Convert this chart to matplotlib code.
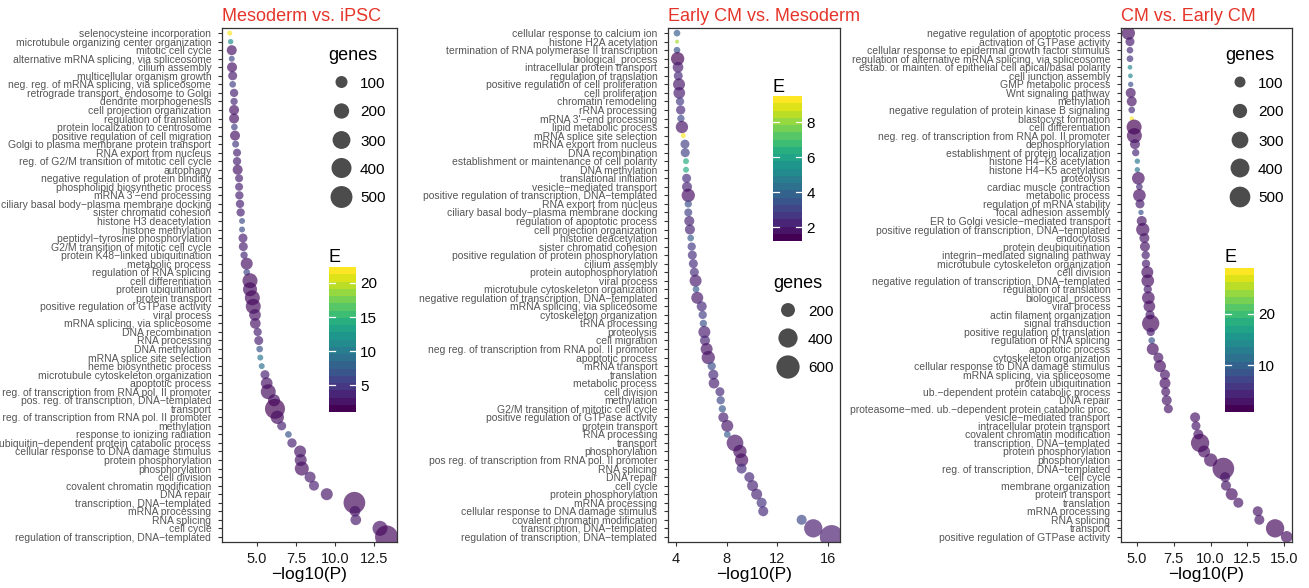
import numpy as np
import matplotlib
matplotlib.use("Agg")
import matplotlib.pyplot as plt
import matplotlib.colors as mcolors
from matplotlib.cm import ScalarMappable

plt.rcParams['font.family'] = ['Liberation Sans', 'DejaVu Sans']

W, H, DPI = 1309, 588, 100
TITLE_RED = '#e5352a'
TICK_GREY = '#555555'
FRAME = '#333333'

# ---- Mesoderm vs. iPSC ----
terms_meso = [
    "selenocysteine incorporation", "microtubule organizing center organization",
    "mitotic cell cycle", "alternative mRNA splicing, via spliceosome", "cilium assembly",
    "multicellular organism growth", "neg. reg. of mRNA splicing, via spliceosome",
    "retrograde transport, endosome to Golgi", "dendrite morphogenesis",
    "cell projection organization", "regulation of translation",
    "protein localization to centrosome", "positive regulation of cell migration",
    "Golgi to plasma membrane protein transport", "RNA export from nucleus",
    "reg. of G2/M transition of mitotic cell cycle", "autophagy",
    "negative regulation of protein binding", "phospholipid biosynthetic process",
    "mRNA 3'-end processing", "ciliary basal body-plasma membrane docking",
    "sister chromatid cohesion", "histone H3 deacetylation", "histone methylation",
    "peptidyl-tyrosine phosphorylation", "G2/M transition of mitotic cell cycle",
    "protein K48-linked ubiquitination", "metabolic process", "regulation of RNA splicing",
    "cell differentiation", "protein ubiquitination", "protein transport",
    "positive regulation of GTPase activity", "viral process", "mRNA splicing, via spliceosome",
    "DNA recombination", "RNA processing", "DNA methylation", "mRNA splice site selection",
    "heme biosynthetic process", "microtubule cytoskeleton organization", "apoptotic process",
    "neg. reg. of transcription from RNA pol. II promoter",
    "pos. reg. of transcription, DNA-templated", "transport",
    "pos. reg. of transcription from RNA pol. II promoter", "methylation",
    "response to ionizing radiation", "ubiquitin-dependent protein catabolic process",
    "cellular response to DNA damage stimulus", "protein phosphorylation", "phosphorylation",
    "cell division", "covalent chromatin modification", "DNA repair",
    "transcription, DNA-templated", "mRNA processing", "RNA splicing", "cell cycle",
    "regulation of transcription, DNA-templated",
]
logp_meso = [3.25, 3.31, 3.38, 3.38, 3.40, 3.44, 3.44, 3.53, 3.53, 3.53,
             3.53, 3.55, 3.59, 3.63, 3.72, 3.72, 3.76, 3.85, 3.85, 3.87,
             3.91, 3.95, 4.04, 4.04, 4.10, 4.12, 4.17, 4.34, 4.34, 4.55,
             4.55, 4.70, 4.76, 4.87, 4.89, 5.04, 5.11, 5.17, 5.21, 5.30,
             5.51, 5.62, 5.72, 6.09, 6.15, 6.30, 6.58, 7.01, 7.24, 7.76,
             7.80, 7.87, 8.40, 8.65, 9.47, 11.24, 11.28, 11.33, 12.88, 13.30]
genes_meso = [2, 3, 56, 6, 56, 39, 11, 29, 17, 56,
              56, 11, 56, 14, 25, 29, 56, 25, 25, 29,
              29, 29, 6, 6, 39, 39, 17, 100, 11, 189,
              156, 189, 189, 93, 70, 29, 39, 11, 6, 6,
              39, 93, 189, 100, 400, 135, 39, 11, 44, 100,
              100, 156, 77, 56, 100, 490, 70, 70, 189, 560]
enrich_meso = [22.35, 11.5, 2.0, 5.5, 2.0, 2.5, 5.0, 3.0, 3.5, 2.0,
               2.0, 5.0, 2.0, 4.5, 3.0, 2.8, 2.2, 3.0, 3.0, 3.0,
               3.0, 3.0, 6.0, 6.0, 2.8, 2.8, 3.5, 2.0, 5.5, 1.6,
               1.7, 1.6, 1.6, 2.0, 2.2, 3.0, 2.8, 6.5, 9.5, 9.0,
               3.0, 2.0, 1.6, 1.9, 1.05, 1.7, 3.0, 6.5, 3.0, 2.2,
               2.2, 1.8, 2.5, 2.8, 2.3, 1.4, 2.2, 2.5, 2.0, 1.5]

# ---- Early CM vs. Mesoderm ----
terms_early = [
    "cellular response to calcium ion", "histone H2A acetylation",
    "termination of RNA polymerase II transcription", "biological_process",
    "intracellular protein transport", "regulation of translation",
    "positive regulation of cell proliferation", "cell proliferation", "chromatin remodeling",
    "rRNA processing", "mRNA 3'-end processing", "lipid metabolic process",
    "mRNA splice site selection", "mRNA export from nucleus", "DNA recombination",
    "establishment or maintenance of cell polarity", "DNA methylation",
    "translational initiation", "vesicle-mediated transport",
    "positive regulation of transcription, DNA-templated", "RNA export from nucleus",
    "ciliary basal body-plasma membrane docking", "regulation of apoptotic process",
    "cell projection organization", "histone deacetylation", "sister chromatid cohesion",
    "positive regulation of protein phosphorylation", "cilium assembly",
    "protein autophosphorylation", "viral process", "microtubule cytoskeleton organization",
    "negative regulation of transcription, DNA-templated", "mRNA splicing, via spliceosome",
    "cytoskeleton organization", "tRNA processing", "proteolysis", "cell migration",
    "neg reg. of transcription from RNA pol. II promoter", "apoptotic process",
    "mRNA transport", "translation", "metabolic process", "cell division", "methylation",
    "G2/M transition of mitotic cell cycle", "positive regulation of GTPase activity",
    "protein transport", "RNA processing", "transport", "phosphorylation",
    "pos reg. of transcription from RNA pol. II promoter", "RNA splicing", "DNA repair",
    "cell cycle", "protein phosphorylation", "mRNA processing",
    "cellular response to DNA damage stimulus", "covalent chromatin modification",
    "transcription, DNA-templated", "regulation of transcription, DNA-templated",
]
logp_early = [4.08, 4.08, 4.08, 4.13, 4.16, 4.18, 4.24, 4.26, 4.32, 4.37,
              4.39, 4.47, 4.58, 4.71, 4.73, 4.79, 4.79, 4.84, 4.87, 4.97,
              4.97, 4.97, 5.05, 5.10, 5.16, 5.24, 5.29, 5.37, 5.45, 5.55,
              5.58, 5.68, 6.03, 6.11, 6.16, 6.24, 6.29, 6.42, 6.55, 6.82,
              6.95, 7.00, 7.47, 7.53, 7.66, 7.74, 8.05, 8.05, 8.66, 9.05,
              9.18, 9.18, 9.79, 10.05, 10.37, 10.76, 10.89, 13.92, 14.84, 16.29]
genes_early = [37, 10, 37, 181, 111, 75, 144, 136, 62, 80,
               46, 152, 18, 75, 75, 28, 28, 75, 96, 181,
               46, 57, 96, 96, 37, 62, 75, 75, 75, 144,
               37, 144, 96, 62, 46, 144, 96, 144, 181, 62,
               96, 110, 75, 62, 46, 96, 144, 37, 297, 181,
               181, 96, 96, 119, 119, 96, 96, 96, 361, 620]
enrich_early = [3.6, 8.4, 3.4, 1.2, 1.8, 2.2, 1.7, 1.8, 2.6, 2.2,
                3.0, 1.6, 9.5, 2.8, 2.8, 6.3, 6.3, 2.3, 2.0, 1.5,
                3.2, 2.8, 2.0, 2.0, 3.6, 2.6, 2.3, 2.3, 2.3, 1.8,
                3.6, 1.7, 2.2, 2.8, 3.3, 1.8, 2.0, 1.6, 1.6, 3.2,
                2.2, 1.9, 2.2, 3.0, 3.5, 1.9, 1.7, 3.6, 1.6, 1.5,
                1.5, 2.3, 2.2, 2.0, 2.0, 2.4, 2.2, 3.0, 1.8, 1.8]

# ---- CM vs. Early CM ----
terms_cm = [
    "negative regulation of apoptotic process", "activation of GTPase activity",
    "cellular response to epidermal growth factor stimulus",
    "regulation of alternative mRNA splicing, via spliceosome",
    "estab. or mainten. of epithelial cell apical/basal polarity", "cell junction assembly",
    "GMP metabolic process", "Wnt signaling pathway", "methylation",
    "negative regulation of protein kinase B signaling", "blastocyst formation",
    "cell differentiation", "neg. reg. of transcription from RNA pol. II promoter",
    "dephosphorylation", "establishment of protein localization", "histone H4-K8 acetylation",
    "histone H4-K5 acetylation", "proteolysis", "cardiac muscle contraction",
    "metabolic process", "regulation of mRNA stability", "focal adhesion assembly",
    "ER to Golgi vesicle-mediated transport",
    "positive regulation of transcription, DNA-templated", "endocytosis",
    "protein deubiquitination", "integrin-mediated signaling pathway",
    "microtubule cytoskeleton organization", "cell division",
    "negative regulation of transcription, DNA-templated", "regulation of translation",
    "biological_process", "viral process", "actin filament organization",
    "signal transduction", "positive regulation of translation", "regulation of RNA splicing",
    "apoptotic process", "cytoskeleton organization",
    "cellular response to DNA damage stimulus", "mRNA splicing, via spliceosome",
    "protein ubiquitination", "ub.-dependent protein catabolic process", "DNA repair",
    "proteasome-med. ub.-dependent protein catabolic proc.", "vesicle-mediated transport",
    "intracellular protein transport", "covalent chromatin modification",
    "transcription, DNA-templated", "protein phosphorylation", "phosphorylation",
    "reg. of transcription, DNA-templated", "cell cycle", "membrane organization",
    "protein transport", "translation", "mRNA processing", "RNA splicing", "transport",
    "positive regulation of GTPase activity",
]
logp_cm = [4.41, 4.52, 4.52, 4.52, 4.52, 4.55, 4.57, 4.57, 4.64, 4.64,
           4.64, 4.80, 4.82, 4.86, 4.91, 5.02, 5.02, 5.09, 5.16, 5.16,
           5.20, 5.27, 5.32, 5.39, 5.50, 5.54, 5.59, 5.61, 5.70, 5.73,
           5.73, 5.77, 5.84, 5.88, 5.93, 5.93, 6.00, 6.07, 6.45, 6.56,
           6.90, 6.90, 6.95, 7.02, 7.13, 8.95, 9.01, 9.17, 9.29, 9.56,
           10.01, 10.87, 10.99, 11.05, 11.44, 11.89, 13.21, 13.32, 14.39, 15.18]
genes_cm = [167, 56, 20, 20, 4, 4, 8, 76, 76, 20,
            2, 228, 228, 76, 28, 8, 8, 148, 20, 148,
            56, 8, 76, 167, 76, 76, 43, 43, 127, 148,
            43, 148, 118, 56, 325, 43, 20, 127, 76, 127,
            76, 100, 56, 76, 56, 76, 56, 76, 373, 127,
            167, 558, 76, 76, 127, 76, 76, 76, 373, 118]
enrich_cm = [2.0, 3.0, 4.5, 5.0, 14.0, 14.0, 8.0, 2.5, 2.5, 4.5,
             28.9, 0.93, 1.5, 2.5, 4.0, 12.0, 12.0, 2.0, 4.5, 2.0,
             3.0, 8.0, 2.5, 2.0, 2.5, 2.5, 3.0, 3.0, 2.0, 2.0,
             3.0, 2.0, 2.0, 3.0, 1.5, 3.0, 8.0, 2.0, 2.5, 2.0,
             2.5, 2.0, 2.5, 2.5, 2.5, 2.5, 2.5, 2.5, 1.5, 2.0,
             2.0, 1.5, 2.5, 2.5, 2.0, 2.5, 2.5, 2.5, 1.5, 2.0]


def fig_axes(fig, left, top, right, bottom):
    # boxes are given in pixels of the final image, origin top-left
    return fig.add_axes([left / W, 1 - bottom / H, (right - left) / W, (bottom - top) / H])


def dot_size(genes, a, b):
    d = a + b * np.sqrt(np.asarray(genes, dtype=float))  # diameter in px
    return (d * 72.0 / DPI) ** 2


def draw_panel(fig, box, title, terms, logp, genes, enrich, xlim, xticks, xfmt, size_ab):
    ax = fig_axes(fig, *box)
    y = np.arange(len(terms))
    norm = mcolors.Normalize(min(enrich), max(enrich))
    ax.scatter(logp, y, s=dot_size(genes, *size_ab), c=enrich, cmap='viridis',
               norm=norm, alpha=0.68, linewidths=0)
    ax.set_xlim(*xlim)
    ax.set_ylim(len(terms) - 0.4, -0.6)
    ax.set_yticks(y)
    ax.set_yticklabels([t.replace('-', '\u2212') for t in terms], fontsize=7.5, color=TICK_GREY)
    ax.set_xticks(xticks)
    ax.set_xticklabels([xfmt.format(v) for v in xticks], fontsize=10.5, color='#1a1a1a')
    ax.tick_params(axis='both', length=3.2, width=0.8, color=FRAME)
    ax.tick_params(axis='y', pad=4.5)
    ax.tick_params(axis='x', pad=4)
    for sp in ax.spines.values():
        sp.set_color(FRAME)
        sp.set_linewidth(0.9)
    ax.set_xlabel('\u2212log10(P)', fontsize=12.5, labelpad=1)
    ax.set_title(title, loc='left', color=TITLE_RED, fontsize=13, pad=5)
    return norm


def draw_colorbar(fig, bar, norm, ticks):
    cax = fig_axes(fig, *bar)
    sm = ScalarMappable(norm=norm, cmap=plt.get_cmap('viridis').resampled(20))
    cb = fig.colorbar(sm, cax=cax)
    cb.outline.set_visible(False)
    cb.set_ticks(ticks)
    cax.tick_params(length=0, pad=3, labelsize=11)
    tr = cax.get_yaxis_transform()
    for t in ticks:
        cax.plot([0, 0.22], [t, t], color='white', lw=0.9, transform=tr)
        cax.plot([0.78, 1], [t, t], color='white', lw=0.9, transform=tr)
    cax.set_ylim(norm.vmin, norm.vmax)


def draw_gene_legend(ov, title_xy, cx, ys, values, size_ab, label_x):
    ov.text(title_xy[0], title_xy[1], 'genes', fontsize=13, ha='left', va='baseline')
    ov.scatter([cx] * len(values), ys, s=dot_size(values, *size_ab), color='black',
               alpha=0.7, linewidths=0)
    for yy, v in zip(ys, values):
        ov.text(label_x, yy, str(v), fontsize=11, ha='left', va='center_baseline')


fig = plt.figure(figsize=(W / DPI, H / DPI), dpi=DPI)

size_meso = (4.0, 0.8)
size_early = (1.2, 0.9)
size_cm = (3.15, 0.785)

norm1 = draw_panel(fig, (222, 28, 397, 542), 'Mesoderm vs. iPSC', terms_meso, logp_meso,
                   genes_meso, enrich_meso, (2.756, 13.97), [5, 7.5, 10, 12.5], '{:.1f}', size_meso)
norm2 = draw_panel(fig, (668, 28, 840, 542), 'Early CM vs. Mesoderm', terms_early, logp_early,
                   genes_early, enrich_early, (3.37, 16.95), [4, 8, 12, 16], '{:.0f}', size_early)
norm3 = draw_panel(fig, (1121, 28, 1292, 542), 'CM vs. Early CM', terms_cm, logp_cm,
                   genes_cm, enrich_cm, (3.91, 15.54), [5, 7.5, 10, 12.5, 15], '{:.1f}', size_cm)

draw_colorbar(fig, (329, 267, 356, 412), norm1, [5, 10, 15, 20])
draw_colorbar(fig, (773, 96, 802, 241), norm2, [2, 4, 6, 8])
draw_colorbar(fig, (1225, 268, 1254, 412), norm3, [10, 20])

# overlay in pixel coords for the legend keys
ov = fig.add_axes([0, 0, 1, 1])
ov.set_xlim(0, W)
ov.set_ylim(H, 0)
ov.axis('off')
ov.patch.set_alpha(0)

draw_gene_legend(ov, (328, 60), 341.5, [82, 111, 140, 168, 197], [100, 200, 300, 400, 500],
                 size_meso, 360)
draw_gene_legend(ov, (773, 288), 788, [310, 338, 367], [200, 400, 600], size_early, 808)
draw_gene_legend(ov, (1225, 60), 1240, [82, 111, 140, 168, 197], [100, 200, 300, 400, 500],
                 size_cm, 1258)

for x, y in [(329, 262), (773, 92), (1225, 262)]:
    ov.text(x, y, 'E', fontsize=13, ha='left', va='baseline')

fig.savefig('out.png', dpi=DPI)
